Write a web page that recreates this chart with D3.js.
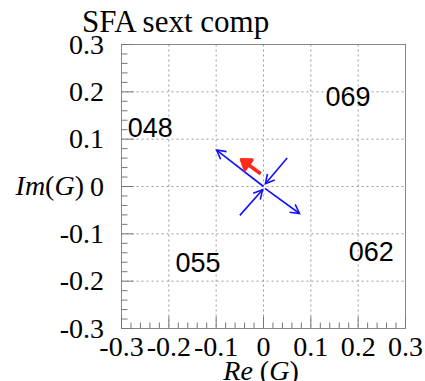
<!DOCTYPE html>
<html>
<head>
<meta charset="utf-8">
<script src="https://cdn.jsdelivr.net/npm/d3@7"></script>
<style>
  body { margin: 0; background: #fff; }
  svg { display: block; }
</style>
</head>
<body>
<svg id="chart" width="425" height="381"></svg>
<script>
// axis range and tick values
var xTicks = [-0.3, -0.2, -0.1, 0, 0.1, 0.2, 0.3];
var yTicks = [-0.3, -0.2, -0.1, 0, 0.1, 0.2, 0.3];
var tickLabels = ["-0.3", "-0.2", "-0.1", "0", "0.1", "0.2", "0.3"];

// blue arrows: [x1, y1, x2, y2] (head at x2,y2)
var blueArrows = [
   [0.000, 0.000, -0.099, 0.077],
   [0.003, -0.004, 0.076, -0.057],
   [0.050, 0.060, 0.004, 0.006],
   [-0.050, -0.061, -0.002, -0.007]
];
// red arrow
var redArrows = [
   [-0.006, 0.027, -0.047, 0.057]
];

// station labels
var labelNames = ["069", "048", "062", "055"];
var labelX = [0.131, -0.287, 0.180, -0.186];
var labelY = [0.171, 0.105, -0.158, -0.181];

var SERIF = '"Liberation Serif", "Times New Roman", serif';
var SANS = '"Liberation Sans", Arial, sans-serif';

var svg = d3.select("#chart");
var frame = {left: 121.5, right: 405.5, top: 44.5, bottom: 328.5};

var x = d3.scaleLinear().domain([-0.3, 0.3]).range([frame.left, frame.right]);
var y = d3.scaleLinear().domain([-0.3, 0.3]).range([frame.bottom, frame.top]);

//grid lines (dotted), skip the frame edges
svg.selectAll("line.vgrid").data(xTicks.slice(1, -1)).enter().append("line")
   .attr("x1", function(d){ return x(d); }).attr("x2", function(d){ return x(d); })
   .attr("y1", frame.top).attr("y2", frame.bottom)
   .attr("stroke", "#999").attr("stroke-width", 1).attr("stroke-dasharray", "2,3");
svg.selectAll("line.hgrid").data(yTicks.slice(1, -1)).enter().append("line")
   .attr("x1", frame.left).attr("x2", frame.right)
   .attr("y1", function(d){ return y(d); }).attr("y2", function(d){ return y(d); })
   .attr("stroke", "#999").attr("stroke-width", 1).attr("stroke-dasharray", "2,3");

//frame
svg.append("rect")
   .attr("x", frame.left).attr("y", frame.top)
   .attr("width", frame.right - frame.left).attr("height", frame.bottom - frame.top)
   .attr("fill", "none").attr("stroke", "#888").attr("stroke-width", 1);

//ticks drawn inside the frame
var minor = d3.range(0, 31).map(function(i){ return -0.3 + i * 0.02; });
svg.selectAll("line.ytick").data(minor).enter().append("line")
   .attr("x1", frame.left)
   .attr("x2", function(d, i){ return frame.left + (i % 5 == 0 ? 12 : 6); })
   .attr("y1", function(d){ return y(d); }).attr("y2", function(d){ return y(d); })
   .attr("stroke", "#777").attr("stroke-width", 1);
svg.selectAll("line.xtick").data(minor).enter().append("line")
   .attr("y1", frame.bottom)
   .attr("y2", function(d, i){ return frame.bottom - (i % 5 == 0 ? 12 : 6); })
   .attr("x1", function(d){ return x(d); }).attr("x2", function(d){ return x(d); })
   .attr("stroke", "#777").attr("stroke-width", 1);

//tick labels
svg.selectAll("text.ylab").data(yTicks).enter().append("text")
   .attr("font-family", SERIF)
   .attr("x", 104).attr("y", function(d){ return y(d) + 9; })
   .attr("text-anchor", "end").attr("font-size", 28)
   .text(function(d, i){ return tickLabels[i]; });
svg.selectAll("text.xlab").data(xTicks).enter().append("text")
   .attr("font-family", SERIF)
   .attr("x", function(d){ return x(d); }).attr("y", 356)
   .attr("text-anchor", "middle").attr("font-size", 28)
   .text(function(d, i){ return tickLabels[i]; });

//axis titles
svg.append("text").attr("font-family", SERIF)
   .attr("x", 84).attr("y", 195).attr("text-anchor", "end")
   .attr("font-size", 28).attr("font-style", "italic")
   .html('Im<tspan font-style="normal">(</tspan>G<tspan font-style="normal">)</tspan>');
svg.append("text").attr("font-family", SERIF)
   .attr("x", 261).attr("y", 380).attr("text-anchor", "middle")
   .attr("font-size", 28).attr("font-style", "italic")
   .html('Re <tspan font-style="normal">(</tspan>G<tspan font-style="normal">)</tspan>');

//title
svg.append("text").attr("font-family", SERIF)
   .attr("x", 82).attr("y", 32).attr("font-size", 31)
   .text("SFA sext comp");

//station labels
svg.selectAll("text.station").data(labelNames).enter().append("text")
   .attr("font-family", SANS)
   .attr("x", function(d, i){ return x(labelX[i]); })
   .attr("y", function(d, i){ return y(labelY[i]); })
   .attr("font-size", 27).attr("fill", "#000")
   .text(function(d){ return d; });

//arrows
function headPath(d, len, ang){
   var x1 = x(d[0]), y1 = y(d[1]), x2 = x(d[2]), y2 = y(d[3]);
   var a = Math.atan2(y2 - y1, x2 - x1);
   var p1 = [x2 - len * Math.cos(a - ang), y2 - len * Math.sin(a - ang)];
   var p2 = [x2 - len * Math.cos(a + ang), y2 - len * Math.sin(a + ang)];
   return "M" + p1 + "L" + [x2, y2] + "L" + p2;
}

svg.selectAll("line.blue").data(blueArrows).enter().append("line")
   .attr("x1", function(d){ return x(d[0]); }).attr("y1", function(d){ return y(d[1]); })
   .attr("x2", function(d){ return x(d[2]); }).attr("y2", function(d){ return y(d[3]); })
   .attr("stroke", "#1010ff").attr("stroke-width", 1.6);
svg.selectAll("path.bluehead").data(blueArrows).enter().append("path")
   .attr("d", function(d){ return headPath(d, 10, 0.5); })
   .attr("fill", "none").attr("stroke", "#1010ff").attr("stroke-width", 1.6);

svg.selectAll("line.red").data(redArrows).enter().append("line")
   .attr("x1", function(d){ return x(d[0]); }).attr("y1", function(d){ return y(d[1]); })
   .attr("x2", function(d){ return x(d[2]); }).attr("y2", function(d){ return y(d[3]); })
   .attr("stroke", "#ff2a1a").attr("stroke-width", 3.5);
svg.selectAll("path.redhead").data(redArrows).enter().append("path")
   .attr("d", function(d){ return headPath(d, 11, 0.6) + "Z"; })
   .attr("fill", "#ff2a1a").attr("stroke", "#ff2a1a").attr("stroke-width", 3)
   .attr("stroke-linejoin", "round");
</script>
</body>
</html>
